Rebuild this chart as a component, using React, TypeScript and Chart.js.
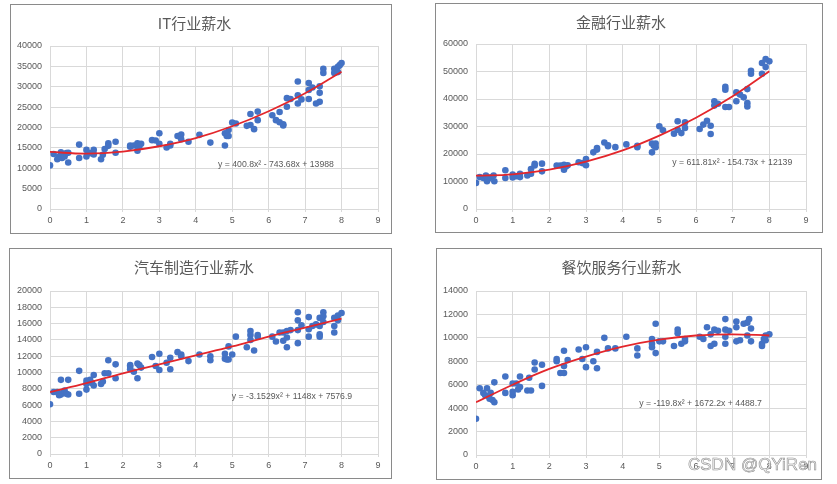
import React, { useEffect, useRef } from "react";
import { Chart, registerables } from "chart.js";

Chart.register(...registerables);

// ---------- data ----------
const trendX = [0, 1, 2, 3, 4, 5, 6, 7, 8];

const itX = [0,0.1,0.2,0.25,0.3,0.33,0.37,0.4,0.45,0.5,0.5,0.8,0.8,1,1,1.1,1.2,1.2,1.4,1.45,1.5,1.6,1.6,1.8,1.8,2.2,2.2,2.3,2.4,2.4,2.45,2.5,2.8,2.9,3,3,3.2,3.3,3.3,3.5,3.6,3.6,3.8,4.1,4.4,4.8,4.8,4.85,4.9,4.9,5,5.1,5.4,5.5,5.5,5.6,5.7,5.7,6.1,6.2,6.3,6.3,6.4,6.4,6.5,6.5,6.6,6.8,6.8,6.8,6.9,7.1,7.1,7.1,7.2,7.3,7.4,7.4,7.4,7.5,7.5,7.8,7.8,7.9,7.95,8,7.9];
const itY = [10700,13500,12200,12900,13900,12500,13300,12900,13700,11400,13800,15800,12500,14500,12900,13700,14500,13400,12200,13300,14700,16100,15500,16500,13800,15300,15600,15600,16100,14300,15300,16000,16900,16800,18600,16000,15100,15600,16000,17900,18300,17100,16500,18200,16300,15600,18600,17900,19400,17900,21200,21000,20400,23300,20600,19600,23900,21800,23000,21800,23800,21300,20800,20500,27200,25100,27000,31300,27900,25900,26900,30900,27000,29200,29800,25900,26300,28500,30100,34400,33400,34400,33400,34900,35300,35800,33600];
const itTrend = [14000, 13600, 14100, 15400, 17400, 20300, 24000, 28400, 33700];

const finX = [0,0.1,0.2,0.27,0.3,0.33,0.4,0.48,0.5,0.8,0.8,1,1,1.1,1.2,1.2,1.4,1.5,1.5,1.6,1.6,1.8,1.8,2.2,2.3,2.4,2.4,2.45,2.5,2.8,2.9,3,3,3.2,3.3,3.3,3.5,3.6,3.6,3.8,4.1,4.4,4.4,4.8,4.8,4.85,4.9,4.9,5,5.1,5.4,5.5,5.5,5.6,5.7,5.7,6.1,6.2,6.3,6.4,6.4,6.5,6.5,6.6,6.8,6.8,6.8,6.9,7.1,7.1,7.2,7.3,7.4,7.4,7.4,7.5,7.5,7.8,7.8,7.9,7.9,8];
const finY = [9500,11600,11300,12200,10100,11000,11500,12200,10100,14100,11300,12500,11500,11900,12800,11600,12200,14500,12800,15800,16400,16500,13700,15800,15800,16100,14300,15500,15900,17000,16700,18200,15900,20600,21600,22200,24200,23200,22800,22500,23500,22500,23000,20600,23800,23000,23800,22500,30100,28600,27400,31900,28800,27600,31500,29500,29100,30700,32100,30300,27300,39200,37600,38300,44400,43400,37100,37100,42400,39200,41600,40600,43600,38500,37300,50300,49200,53100,49200,54500,51600,53700];
const finTrend = [12100, 12600, 14300, 17200, 21300, 26700, 33200, 41000, 50100];

const carX = [0,0.1,0.2,0.25,0.3,0.3,0.35,0.4,0.45,0.5,0.5,0.8,0.8,1,1,1,1.1,1.15,1.2,1.2,1.4,1.45,1.5,1.6,1.6,1.8,1.8,2.2,2.2,2.2,2.3,2.4,2.4,2.45,2.5,2.8,2.9,3,3,3.2,3.3,3.3,3.5,3.6,3.6,3.8,4.1,4.4,4.4,4.8,4.8,4.85,4.9,4.9,5,5.1,5.4,5.5,5.5,5.5,5.6,5.7,5.7,6.1,6.2,6.3,6.4,6.4,6.5,6.5,6.5,6.6,6.8,6.8,6.8,6.8,6.9,7.1,7.1,7.1,7.2,7.3,7.4,7.4,7.4,7.4,7.5,7.5,7.5,7.8,7.8,7.8,7.9,7.9,8];
const carY = [6100,7600,7600,7200,9100,7300,7500,7800,7400,9100,7300,10200,7400,9000,7900,8600,9100,8700,9700,8400,8600,8900,9900,9900,11500,11000,9300,10900,10700,10400,10100,9300,11100,10900,10600,11900,10800,12300,10300,11200,11800,10400,12500,12200,12000,11400,12200,12000,11500,12300,11700,11600,13200,11600,12200,14400,13100,15100,14600,14000,12700,14600,14400,14400,13800,14900,13900,14900,15100,14300,13100,15200,17400,16400,15200,13600,15800,16800,15300,14400,15700,15900,16700,15700,14700,14400,17400,16900,16200,16700,15700,14900,17000,16400,17300];
const carTrend = [7600, 8700, 9900, 11000, 12100, 13200, 14400, 15500, 16600];

const resX = [0,0.1,0.2,0.25,0.3,0.35,0.37,0.4,0.45,0.5,0.5,0.8,0.8,1,1,1,1.1,1.15,1.2,1.2,1.4,1.45,1.5,1.6,1.6,1.8,1.8,2.2,2.2,2.3,2.4,2.4,2.4,2.5,2.8,2.9,3,3,3.2,3.3,3.3,3.5,3.6,3.8,4.1,4.4,4.4,4.8,4.8,4.8,4.9,4.9,5,5.1,5.4,5.5,5.5,5.6,5.7,5.7,6.1,6.2,6.3,6.4,6.4,6.5,6.5,6.6,6.8,6.8,6.8,6.8,6.9,7.1,7.1,7.1,7.2,7.3,7.4,7.4,7.45,7.5,7.5,7.8,7.8,7.85,7.9,7.9,8];
const resY = [3100,5700,5300,5100,5700,5000,4800,5300,4700,6200,4500,6700,5300,6100,5100,5400,6100,5600,6700,5800,5500,6600,5500,7900,7300,7700,5900,8200,8000,7000,8900,7600,7000,8100,9000,8200,9200,7500,8000,8800,7400,10000,9100,9100,10100,9100,8500,9900,9500,9200,11200,8700,9700,9700,9300,10700,10400,9500,9900,9700,10100,9900,10900,9300,10300,10700,9500,10600,11600,10700,10100,9500,10600,11400,10900,9700,9800,11200,11300,10200,11600,10800,9700,9500,9300,9900,10200,9800,10300];
const resTrend = [4500, 6000, 7350, 8400, 9250, 9850, 10200, 10300, 10200];

const titles = ["IT行业薪水", "金融行业薪水", "汽车制造行业薪水", "餐饮服务行业薪水"];
const equations = [
  "y = 400.8x² - 743.68x + 13988",
  "y = 611.81x² - 154.73x + 12139",
  "y = -3.1529x² + 1148x + 7576.9",
  "y = -119.8x² + 1672.2x + 4488.7",
];

const FONT = '"Liberation Sans", Arial, sans-serif';
const GRAY = "#595959";

type PanelProps = {
  box: number[]; // left, top, width, height (outer, page coords)
  plot: number[]; // x0 px, x9 px, yTop px, y0 px (page coords)
  title: string;
  xs: number[];
  ys: number[];
  trend: number[];
  yMax: number;
  yStep: number;
  eq: string;
  eqPos: number[]; // data coords
};

function Panel(p: PanelProps) {
  const ref = useRef<HTMLCanvasElement>(null);
  const [bl, bt, bw, bh] = p.box;
  const cw = bw - 2;
  const ch = bh - 2;
  const areaLeft = p.plot[0] - (bl + 1);
  const areaRight = p.plot[1] - (bl + 1);
  const areaTop = p.plot[2] - (bt + 1);
  const areaBottom = p.plot[3] - (bt + 1);

  useEffect(() => {
    if (!ref.current) return;
    const eqPlugin = {
      id: "eqText",
      afterDraw(chart: any) {
        const { ctx, scales } = chart;
        ctx.save();
        ctx.font = `8.7px ${FONT}`;
        ctx.fillStyle = GRAY;
        ctx.textAlign = "left";
        ctx.textBaseline = "middle";
        ctx.fillText(
          p.eq,
          scales.x.getPixelForValue(p.eqPos[0]),
          scales.y.getPixelForValue(p.eqPos[1])
        );
        ctx.restore();
      },
    };
    const chart = new Chart(ref.current, {
      type: "scatter",
      data: {
        datasets: [
          {
            type: "line",
            data: trendX.map((x, i) => ({ x, y: p.trend[i] })),
            borderColor: "#E3262B",
            borderWidth: 1.8,
            pointRadius: 0,
            tension: 0.4,
            fill: false,
            order: 0,
          } as any,
          {
            type: "scatter",
            data: p.xs.map((x, i) => ({ x, y: p.ys[i] })),
            backgroundColor: "#4472C4",
            borderColor: "#4472C4",
            pointRadius: 3.3,
            pointBorderWidth: 0,
            order: 1,
          },
        ],
      },
      options: {
        animation: false,
        responsive: false,
        events: [],
        layout: { padding: { left: 0, right: cw - areaRight, top: 0, bottom: 0 } },
        plugins: {
          legend: { display: false },
          tooltip: { enabled: false },
          title: {
            display: true,
            text: p.title,
            color: GRAY,
            font: { family: '"Noto Sans CJK SC", sans-serif', size: 15, weight: "normal", lineHeight: 1.2 },
            padding: { top: 9, bottom: areaTop - 27 },
          },
        },
        scales: {
          x: {
            type: "linear",
            min: 0,
            max: 9,
            ticks: {
              stepSize: 1,
              color: GRAY,
              font: { family: FONT, size: 9 },
              padding: 3,
              callback: (v: any) => String(v),
            },
            grid: { color: "#d9d9d9", tickLength: 3 },
            border: { color: "#d9d9d9" },
            afterFit: (s: any) => {
              s.height = ch - areaBottom;
            },
          },
          y: {
            type: "linear",
            min: 0,
            max: p.yMax,
            ticks: {
              stepSize: p.yStep,
              color: GRAY,
              font: { family: FONT, size: 9 },
              padding: 8,
              callback: (v: any) => String(v),
            },
            grid: { color: "#d9d9d9", drawTicks: false },
            border: { color: "#d9d9d9" },
            afterFit: (s: any) => {
              s.width = areaLeft;
            },
          },
        },
      },
      plugins: [eqPlugin],
    } as any);
    return () => chart.destroy();
  }, []);

  return (
    <div
      style={{
        position: "absolute",
        left: bl,
        top: bt,
        width: bw - 2,
        height: bh - 2,
        border: "1px solid #8a8a8a",
        background: "#fff",
      }}
    >
      <canvas ref={ref} width={cw} height={ch} style={{ display: "block", width: cw, height: ch }} />
    </div>
  );
}

export default function App() {
  return (
    <div
      style={{
        position: "fixed",
        left: 0,
        top: 0,
        width: 837,
        height: 484,
        background: "#fff",
        overflow: "hidden",
      }}
    >
      <Panel box={[10, 4, 382, 230]} plot={[50, 378, 46, 209]} title={titles[0]} xs={itX} ys={itY} trend={itTrend} yMax={40000} yStep={5000} eq={equations[0]} eqPos={[4.61, 10800]} />
      <Panel box={[435, 3, 388, 230]} plot={[476, 806, 44, 209]} title={titles[1]} xs={finX} ys={finY} trend={finTrend} yMax={60000} yStep={10000} eq={equations[1]} eqPos={[5.35, 16700]} />
      <Panel box={[9, 248, 383, 231]} plot={[50, 378, 291, 454]} title={titles[2]} xs={carX} ys={carY} trend={carTrend} yMax={20000} yStep={2000} eq={equations[2]} eqPos={[4.99, 7000]} />
      <Panel box={[436, 248, 386, 232]} plot={[476, 806, 291, 455]} title={titles[3]} xs={resX} ys={resY} trend={resTrend} yMax={14000} yStep={2000} eq={equations[3]} eqPos={[4.45, 4350]} />
      <div
        style={{
          position: "absolute",
          left: 688,
          top: 455,
          fontFamily: FONT,
          fontSize: 17,
          lineHeight: "20px",
          color: "rgba(245,245,245,0.85)",
          WebkitTextStroke: "0.6px #8f8f8f",
          whiteSpace: "nowrap",
        }}
      >
        CSDN @QYiRen
      </div>
    </div>
  );
}
